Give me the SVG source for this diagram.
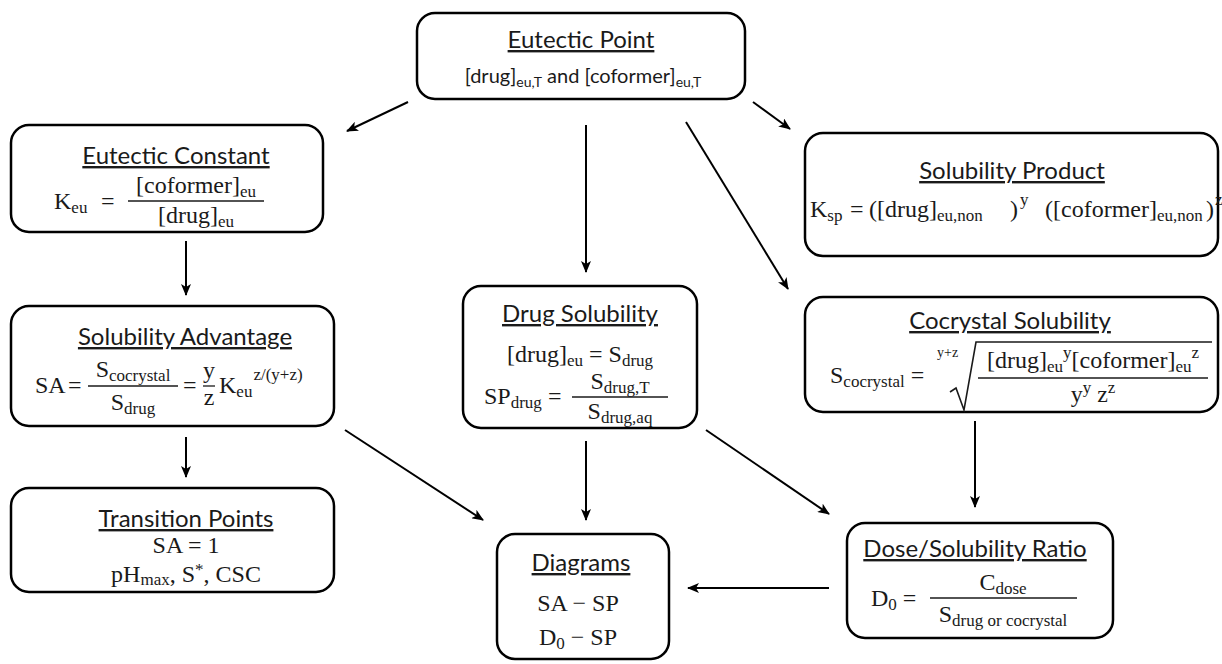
<svg xmlns="http://www.w3.org/2000/svg" width="1222" height="664" viewBox="0 0 1222 664">
<defs>
<marker id="ah" viewBox="0 0 12 10" refX="11" refY="5" markerWidth="12" markerHeight="10" markerUnits="userSpaceOnUse" orient="auto">
<path d="M0,0 L12,5 L0,10 L3,5 z" fill="#000"/>
</marker>
<style>
.box{fill:#fff;stroke:#000;stroke-width:2.5}
.t{font-family:Lato,"Liberation Sans",sans-serif;font-size:24px;fill:#1a1a1a;text-anchor:middle;text-decoration:underline}
.c{font-family:Lato,"Liberation Sans",sans-serif;font-size:20px;fill:#1a1a1a}
.cs{font-size:14px}
.m{font-family:"Liberation Serif","Times New Roman",serif;font-size:24px;fill:#1a1a1a}
.mid{text-anchor:middle}
.s{font-size:17px}
.fl{stroke:#1a1a1a;stroke-width:1.3;fill:none}
#connectors line{stroke:#000;stroke-width:2;marker-end:url(#ah)}
</style>
</defs>
<rect width="1222" height="664" fill="#fff"/>

<g id="connectors">
<line x1="408" y1="102" x2="347" y2="131"/>
<line x1="586" y1="125" x2="586" y2="272"/>
<line x1="686" y1="122" x2="788" y2="289"/>
<line x1="753" y1="102" x2="790" y2="129"/>
<line x1="186" y1="241" x2="186" y2="295"/>
<line x1="186" y1="437" x2="186" y2="477"/>
<line x1="345" y1="430" x2="483" y2="520"/>
<line x1="586" y1="441" x2="586" y2="520"/>
<line x1="706" y1="430" x2="829" y2="514"/>
<line x1="975" y1="421" x2="975" y2="507"/>
<line x1="829" y1="588" x2="688" y2="588"/>
</g>

<g id="eutectic-point">
<rect class="box" x="417" y="13" width="328" height="86" rx="18"/>
<text class="t" x="581" y="48">Eutectic Point</text>
<text class="c mid" x="583" y="83">[drug]<tspan class="cs" dy="4">eu,T</tspan><tspan dy="-4"> and [coformer]</tspan><tspan class="cs" dy="4">eu,T</tspan></text>
</g>

<g id="eutectic-constant">
<rect class="box" x="11" y="125" width="312" height="107" rx="18"/>
<text class="t" x="176" y="164">Eutectic Constant</text>
<text class="m" x="54" y="209">K<tspan class="s" dy="4">eu</tspan></text>
<text class="m" x="101" y="209">=</text>
<line class="fl" x1="128" y1="201" x2="264" y2="201"/>
<text class="m mid" x="196" y="193">[coformer]<tspan class="s" dy="4">eu</tspan></text>
<text class="m mid" x="196" y="223">[drug]<tspan class="s" dy="4">eu</tspan></text>
</g>

<g id="solubility-product">
<rect class="box" x="805" y="133" width="413" height="123" rx="18"/>
<text class="t" x="1012" y="179">Solubility Product</text>
<text class="m" y="217"><tspan x="810">K</tspan><tspan class="s" dy="4">sp</tspan><tspan x="850" dy="-4">=</tspan><tspan x="869">(</tspan><tspan x="877">[drug]</tspan><tspan class="s" dy="4">eu,non</tspan><tspan x="1010" dy="-4">)</tspan><tspan class="s" x="1020" dy="-12">y</tspan><tspan x="1045" dy="12">(</tspan><tspan x="1053">[coformer]</tspan><tspan class="s" dy="4">eu,non</tspan><tspan x="1206" dy="-4">)</tspan><tspan class="s" x="1215" dy="-12">z</tspan></text>
</g>

<g id="solubility-advantage">
<rect class="box" x="11" y="306" width="323" height="120" rx="18"/>
<text class="t" x="185" y="345">Solubility Advantage</text>
<text class="m" x="35" y="393">SA</text>
<text class="m" x="68" y="393">=</text>
<line class="fl" x1="88" y1="386" x2="178" y2="386"/>
<text class="m mid" x="133" y="377">S<tspan class="s" dy="4">cocrystal</tspan></text>
<text class="m mid" x="133" y="410">S<tspan class="s" dy="4">drug</tspan></text>
<text class="m" x="183" y="393">=</text>
<text class="m mid" x="209" y="378">y</text>
<line class="fl" x1="203" y1="386" x2="215" y2="386"/>
<text class="m mid" x="209" y="405">z</text>
<text class="m" x="219" y="393">K<tspan class="s" dy="4">eu</tspan><tspan class="s" dx="1" dy="-17">z/(y+z)</tspan></text>
</g>

<g id="drug-solubility">
<rect class="box" x="463" y="286" width="234" height="142" rx="18"/>
<text class="t" x="580" y="322">Drug Solubility</text>
<text class="m mid" x="580" y="362">[drug]<tspan class="s" dy="4">eu</tspan><tspan dy="-4"> = S</tspan><tspan class="s" dy="4">drug</tspan></text>
<text class="m" x="484" y="404">SP<tspan class="s" dy="4">drug</tspan><tspan dy="-4"> =</tspan></text>
<line class="fl" x1="572" y1="397" x2="668" y2="397"/>
<text class="m mid" x="620" y="389">S<tspan class="s" dy="4">drug,T</tspan></text>
<text class="m mid" x="620" y="419">S<tspan class="s" dy="4">drug,aq</tspan></text>
</g>

<g id="cocrystal-solubility">
<rect class="box" x="805" y="297" width="413" height="115" rx="18"/>
<text class="t" x="1010" y="329">Cocrystal Solubility</text>
<text class="m" x="830" y="383">S<tspan class="s" dy="4">cocrystal</tspan><tspan dx="6" dy="-4">=</tspan></text>
<text class="m" x="937" y="357" style="font-size:14px">y+z</text>
<path class="fl" style="stroke-width:1.6" d="M950,392 L956,388 L964,410 L976,342 L1212,342"/>
<text class="m mid" x="1093" y="368">[drug]<tspan class="s" dy="4">eu</tspan><tspan class="s" dy="-14">y</tspan><tspan dy="10">[coformer]</tspan><tspan class="s" dy="4">eu</tspan><tspan class="s" dy="-14">z</tspan></text>
<line class="fl" x1="978" y1="378" x2="1208" y2="378"/>
<text class="m mid" x="1093" y="402">y<tspan class="s" dy="-9">y</tspan><tspan dy="9"> z</tspan><tspan class="s" dy="-9">z</tspan></text>
</g>

<g id="transition-points">
<rect class="box" x="11" y="488" width="323" height="104" rx="18"/>
<text class="t" x="186" y="527">Transition Points</text>
<text class="m mid" x="186" y="553">SA = 1</text>
<text class="m mid" x="186" y="582">pH<tspan class="s" dy="3">max</tspan><tspan dy="-3">, S</tspan><tspan class="s" dy="-7">*</tspan><tspan dy="7">, CSC</tspan></text>
</g>

<g id="diagrams">
<rect class="box" x="497" y="534" width="172" height="125" rx="18"/>
<text class="t" x="581" y="571">Diagrams</text>
<text class="m mid" x="578" y="611">SA  − SP</text>
<text class="m mid" x="578" y="645">D<tspan class="s" dy="4">0</tspan><tspan dy="-4"> − SP</tspan></text>
</g>

<g id="dose-solubility-ratio">
<rect class="box" x="847" y="523" width="266" height="115" rx="18"/>
<text class="t" x="975" y="557">Dose/Solubility Ratio</text>
<text class="m" x="871" y="606">D<tspan class="s" dy="4">0</tspan><tspan dy="-4"> =</tspan></text>
<line class="fl" x1="930" y1="598" x2="1077" y2="598"/>
<text class="m mid" x="1003" y="590">C<tspan class="s" dy="4">dose</tspan></text>
<text class="m mid" x="1003" y="622">S<tspan class="s" dy="4">drug or cocrystal</tspan></text>
</g>
</svg>
